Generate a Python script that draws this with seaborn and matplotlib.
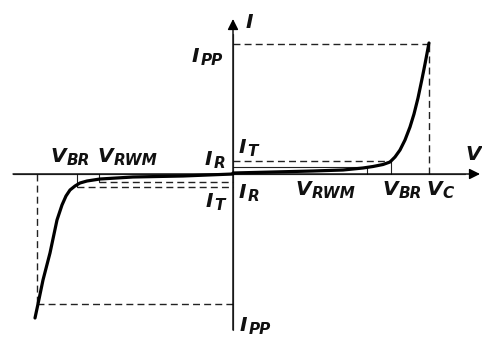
import numpy as np
import pandas as pd
import matplotlib
matplotlib.use("Agg")
import matplotlib.pyplot as plt
import seaborn as sns

# TVS diode I-V characteristic (schematic units)
fwd_v = [0, 40, 80, 110, 130, 140, 150, 157, 162, 167, 172, 177, 181, 185, 189, 192, 196]
fwd_i = [1, 2, 3, 4, 6, 7.5, 9.5, 12, 17, 24, 34, 47, 60, 76, 95, 110, 131]
rev_v = [0, -50, -100, -133, -146, -153, -158, -163, -167, -171, -176, -183, -190, -195, -198]
rev_i = [0, -2, -3, -5, -7, -9, -12, -16, -22, -31, -46, -79, -106, -130, -144]

v_c = 196
v_br = 158
v_rwm = 134
i_pp = 130
i_t = 13
i_r = 7

sns.set_theme(style="white")
plt.rcParams["font.family"] = ["DejaVu Sans"]

fig = plt.figure(figsize=(4.82, 3.42), dpi=100)
ax = fig.add_axes([0, 0, 1, 1])
ax.set_xlim(-233, 249)
ax.set_ylim(-168, 174)
ax.set_axis_off()

axis_col = "#555555"
# axes with arrows
ax.annotate("", xy=(247, 0), xytext=(-220, 0),
            arrowprops=dict(arrowstyle="-|>", color="black", lw=1.0,
                            mutation_scale=16, shrinkA=0, shrinkB=0))
ax.annotate("", xy=(0, 155), xytext=(0, -156),
            arrowprops=dict(arrowstyle="-|>", color="black", lw=1.0,
                            mutation_scale=16, shrinkA=0, shrinkB=0))
ax.plot([-220, 232], [0, 0], color=axis_col, lw=0.9)
ax.plot([0, 0], [-156, 140], color=axis_col, lw=0.9)

dash = dict(color="#222222", lw=1.0, dashes=(5, 3))
thin = dict(color="#222222", lw=0.8)

# clamping / peak pulse guides
ax.plot([0, v_c], [i_pp, i_pp], **dash)
ax.plot([v_c, v_c], [0, i_pp], **dash)
ax.plot([-v_c, 0], [-i_pp, -i_pp], **dash)
ax.plot([-v_c, -v_c], [0, -i_pp], **dash)

# test / leakage current guides
ax.plot([0, v_br], [i_t, i_t], **dash)
ax.plot([0, v_rwm], [i_r, i_r], **thin)
ax.plot([v_br, v_br], [0, i_t], **thin)
ax.plot([v_rwm, v_rwm], [0, i_r], **thin)
ax.plot([-v_br + 2, 0], [-i_t, -i_t], **dash)
ax.plot([-v_rwm, 0], [-i_r - 1, -i_r - 1], **dash)
ax.plot([-v_br + 2, -v_br + 2], [0, -i_t], **thin)
ax.plot([-v_rwm, -v_rwm], [0, -i_r - 1], **thin)

curve = pd.DataFrame({"v": fwd_v, "i": fwd_i})
sns.lineplot(data=curve, x="v", y="i", ax=ax, color="black", lw=2.3,
             sort=False, estimator=None)
curve_r = pd.DataFrame({"v": rev_v, "i": rev_i})
sns.lineplot(data=curve_r, x="v", y="i", ax=ax, color="black", lw=2.3,
             sort=False, estimator=None)


def label(x, y, base, sub=""):
    # big italic letter with a lowered subscript
    t = ax.text(x, y, base, fontsize=14.5, style="italic", weight="bold",
                color="#111111", ha="left", va="baseline")
    if sub:
        ax.annotate(sub, xy=(1, 0), xycoords=t, xytext=(0.5, -1.5),
                    textcoords="offset points", fontsize=11, style="italic",
                    weight="bold", color="#111111", ha="left", va="bottom")


label(13, 146, "I")
label(232, 14, "V")
label(-41, 112, "I", "PP")
label(7, -157, "I", "PP")
label(-183, 12, "V", "BR")
label(-136, 12, "V", "RWM")
label(-28, 9, "I", "R")
label(6, 21, "I", "T")
label(6, -24, "I", "R")
label(-27, -33, "I", "T")
label(62, -21, "V", "RWM")
label(149, -21, "V", "BR")
label(193, -21, "V", "C")

fig.savefig("out.png", dpi=100)
